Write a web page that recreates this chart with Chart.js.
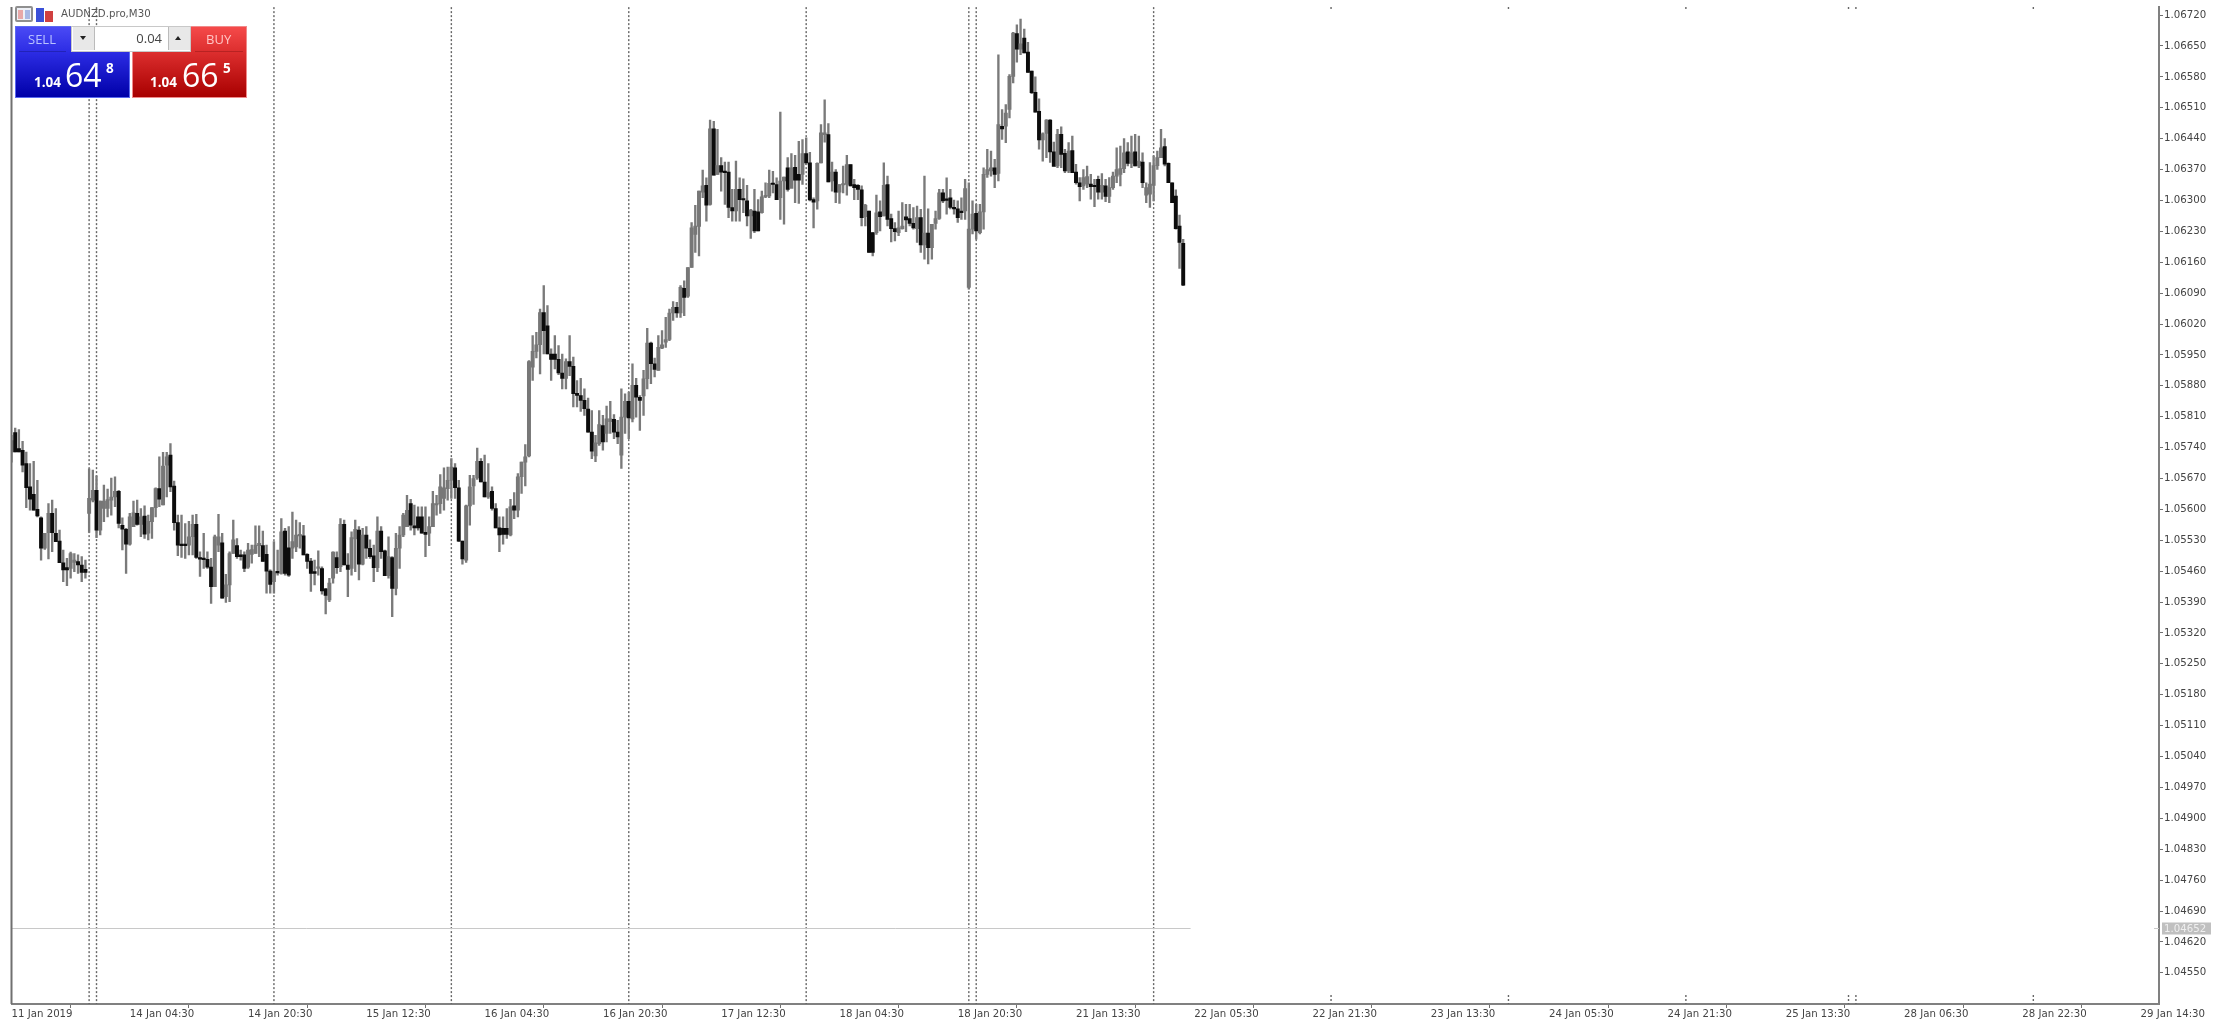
<!DOCTYPE html>
<html>
<head>
<meta charset="utf-8">
<title>AUDNZD.pro,M30</title>
<script src="https://cdn.jsdelivr.net/npm/chart.js@4"></script>
<style>
html,body{margin:0;padding:0;background:#fff;overflow:hidden}
#wrap{position:relative;width:2231px;height:1024px;filter:blur(0.55px)}
#mycanvas{position:absolute;left:0;top:0}
#wrap div{position:absolute;font-family:"Open Sans",sans-serif;box-sizing:border-box;white-space:nowrap}
</style>
</head>
<body>
<div id="wrap">
<canvas id="mycanvas" width="2231" height="1024"></canvas>
<div style="left:15px;top:6px;width:18px;height:16px;background:#eef0f6;border:2px solid #8f8f8f;border-radius:2px"></div>
<div style="left:18px;top:10px;width:5px;height:9px;background:#e8a8a8"></div>
<div style="left:25px;top:10px;width:5px;height:9px;background:#a8b8e4"></div>
<div style="left:36px;top:8px;width:8px;height:14px;background:#3a50d8"></div>
<div style="left:45px;top:11px;width:8px;height:11px;background:#d04040"></div>
<div style="left:61px;top:8px;font-family:'DejaVu Sans';font-size:10.2px;color:#555">AUDNZD.pro,M30</div>
<div style="left:15px;top:26px;width:115px;height:72px;background:linear-gradient(#4a4af5,#2c2ce4 36%,#0000a8);border:1px solid #5a6af0"></div>
<div style="left:132px;top:26px;width:115px;height:72px;background:linear-gradient(#f54a4a,#dc2e2e 36%,#a80000);border:1px solid #f08a8a"></div>
<div style="left:19px;top:51px;width:47px;height:1px;background:#2222b8"></div>
<div style="left:195px;top:51px;width:48px;height:1px;background:#b82222"></div>
<div style="left:28px;top:30px;font-size:13px;color:#b9c3ff">SELL</div>
<div style="left:206px;top:30px;font-size:13px;color:#ffc5c5">BUY</div>
<div style="left:71px;top:26px;width:120px;height:26px;background:#fff;border:1px solid #c8c8c8"></div>
<div style="left:73px;top:27px;width:22px;height:23px;background:#e8e8e8;border-right:1px solid #bbb"></div>
<div style="left:168px;top:27px;width:22px;height:23px;background:#e8e8e8;border-left:1px solid #bbb"></div>
<div style="left:80px;top:36px;width:0;height:0;border-left:3.5px solid transparent;border-right:3.5px solid transparent;border-top:4px solid #222"></div>
<div style="left:175px;top:36px;width:0;height:0;border-left:3.5px solid transparent;border-right:3.5px solid transparent;border-bottom:4px solid #222"></div>
<div style="left:95px;top:29px;width:67px;text-align:right;font-size:13px;color:#444">0.04</div>
<div style="left:34px;top:73px;font-size:13.5px;font-weight:bold;color:#fff">1.04</div>
<div style="left:65px;top:53px;font-size:32px;color:#fff">64</div>
<div style="left:106px;top:59px;font-size:13.5px;font-weight:bold;color:#fff">8</div>
<div style="left:150px;top:73px;font-size:13.5px;font-weight:bold;color:#fff">1.04</div>
<div style="left:182px;top:53px;font-size:32px;color:#fff">66</div>
<div style="left:223px;top:59px;font-size:13.5px;font-weight:bold;color:#fff">5</div>
</div>
<script>
var opens = [1.05730,1.05774,1.05738,1.05734,1.05704,1.05651,1.05634,1.05600,1.05581,1.05512,
1.05547,1.05591,1.05546,1.05528,1.05479,1.05468,1.05466,1.05480,1.05482,1.05474,
1.05464,1.05591,1.05621,1.05643,1.05553,1.05602,1.05602,1.05621,1.05628,1.05641,
1.05564,1.05555,1.05521,1.05561,1.05591,1.05566,1.05585,1.05546,1.05572,1.05604,
1.05647,1.05610,1.05700,1.05723,1.05653,1.05570,1.05521,1.05520,1.05519,1.05538,
1.05566,1.05491,1.05489,1.05487,1.05469,1.05425,1.05519,1.05524,1.05402,1.05429,
1.05500,1.05518,1.05497,1.05497,1.05469,1.05498,1.05500,1.05518,1.05518,1.05498,
1.05460,1.05436,1.05459,1.05455,1.05551,1.05513,1.05512,1.05515,1.05540,1.05540,
1.05498,1.05483,1.05459,1.05466,1.05466,1.05420,1.05395,1.05444,1.05491,1.05470,
1.05566,1.05474,1.05466,1.05533,1.05553,1.05476,1.05542,1.05512,1.05495,1.05468,
1.05551,1.05506,1.05450,1.05491,1.05421,1.05512,1.05542,1.05561,1.05613,1.05563,
1.05583,1.05583,1.05548,1.05546,1.05561,1.05610,1.05613,1.05625,1.05647,1.05666,
1.05694,1.05649,1.05528,1.05485,1.05608,1.05653,1.05671,1.05709,1.05662,1.05628,
1.05641,1.05602,1.05558,1.05557,1.05557,1.05542,1.05608,1.05598,1.05674,1.05707,
1.05721,1.05922,1.05958,1.05973,1.06046,1.06016,1.05952,1.05952,1.05940,1.05909,
1.05897,1.05935,1.05924,1.05863,1.05858,1.05847,1.05827,1.05775,1.05721,1.05749,
1.05790,1.05772,1.05799,1.05804,1.05775,1.05723,1.05809,1.05845,1.05805,1.05881,
1.05854,1.05857,1.05896,1.05977,1.05930,1.05915,1.05965,1.05979,1.05985,1.06045,
1.06058,1.06045,1.06101,1.06083,1.06148,1.06223,1.06241,1.06319,1.06334,1.06291,
1.06462,1.06359,1.06379,1.06364,1.06364,1.06284,1.06276,1.06325,1.06302,1.06299,
1.06265,1.06276,1.06274,1.06272,1.06308,1.06310,1.06339,1.06336,1.06306,1.06344,
1.06374,1.06327,1.06375,1.06359,1.06359,1.06406,1.06385,1.06302,1.06299,1.06385,
1.06449,1.06449,1.06344,1.06364,1.06319,1.06335,1.06336,1.06381,1.06336,1.06334,
1.06324,1.06263,1.06276,1.06227,1.06227,1.06274,1.06265,1.06336,1.06259,1.06236,
1.06227,1.06236,1.06263,1.06259,1.06248,1.06236,1.06261,1.06199,1.06226,1.06193,
1.06248,1.06259,1.06317,1.06302,1.06306,1.06284,1.06281,1.06276,1.06276,1.06103,
1.06235,1.06271,1.06227,1.06274,1.06359,1.06367,1.06374,1.06361,1.06468,1.06468,
1.06506,1.06581,1.06678,1.06643,1.06668,1.06636,1.06593,1.06545,1.06502,1.06437,
1.06452,1.06482,1.06410,1.06378,1.06450,1.06407,1.06367,1.06413,1.06364,1.06340,
1.06333,1.06337,1.06337,1.06334,1.06348,1.06319,1.06333,1.06309,1.06329,1.06355,
1.06359,1.06372,1.06410,1.06384,1.06410,1.06378,1.06387,1.06312,1.06314,1.06334,
1.06379,1.06397,1.06422,1.06384,1.06340,1.06310,1.06242,1.06203];
var highs = [1.05768,1.05784,1.05781,1.05754,1.05730,1.05704,1.05709,1.05666,1.05583,1.05546,
1.05613,1.05621,1.05602,1.05553,1.05508,1.05489,1.05503,1.05500,1.05497,1.05493,
1.05485,1.05692,1.05689,1.05676,1.05619,1.05655,1.05646,1.05671,1.05674,1.05643,
1.05581,1.05557,1.05591,1.05619,1.05621,1.05602,1.05608,1.05587,1.05604,1.05649,
1.05719,1.05729,1.05729,1.05749,1.05664,1.05587,1.05587,1.05568,1.05573,1.05587,
1.05589,1.05504,1.05546,1.05504,1.05489,1.05542,1.05589,1.05546,1.05453,1.05504,
1.05576,1.05534,1.05508,1.05504,1.05523,1.05519,1.05563,1.05563,1.05551,1.05519,
1.05463,1.05527,1.05508,1.05579,1.05557,1.05561,1.05594,1.05576,1.05570,1.05564,
1.05500,1.05489,1.05485,1.05506,1.05470,1.05421,1.05444,1.05504,1.05504,1.05579,
1.05576,1.05500,1.05549,1.05576,1.05561,1.05557,1.05561,1.05531,1.05519,1.05583,
1.05561,1.05508,1.05538,1.05493,1.05546,1.05561,1.05591,1.05632,1.05623,1.05610,
1.05606,1.05606,1.05606,1.05583,1.05641,1.05632,1.05679,1.05694,1.05696,1.05715,
1.05704,1.05666,1.05528,1.05610,1.05677,1.05677,1.05739,1.05715,1.05723,1.05704,
1.05651,1.05613,1.05583,1.05583,1.05602,1.05623,1.05638,1.05681,1.05707,1.05747,
1.05937,1.05994,1.06001,1.06054,1.06107,1.06062,1.05964,1.05994,1.05971,1.05952,
1.05941,1.05994,1.05945,1.05892,1.05897,1.05873,1.05852,1.05824,1.05768,1.05824,
1.05813,1.05834,1.05845,1.05815,1.05802,1.05873,1.05862,1.05866,1.05930,1.05897,
1.05858,1.05915,1.06010,1.05979,1.05943,1.05994,1.06005,1.06035,1.06054,1.06071,
1.06069,1.06107,1.06118,1.06148,1.06250,1.06289,1.06321,1.06369,1.06351,1.06482,
1.06479,1.06461,1.06397,1.06387,1.06387,1.06325,1.06389,1.06351,1.06349,1.06334,
1.06280,1.06325,1.06302,1.06321,1.06340,1.06369,1.06366,1.06351,1.06500,1.06353,
1.06397,1.06406,1.06402,1.06434,1.06438,1.06442,1.06409,1.06306,1.06385,1.06472,
1.06528,1.06474,1.06387,1.06370,1.06336,1.06378,1.06402,1.06381,1.06348,1.06336,
1.06333,1.06291,1.06276,1.06227,1.06312,1.06299,1.06385,1.06355,1.06269,1.06250,
1.06276,1.06295,1.06291,1.06291,1.06284,1.06287,1.06280,1.06355,1.06281,1.06246,
1.06276,1.06325,1.06325,1.06351,1.06325,1.06301,1.06299,1.06306,1.06348,1.06340,
1.06299,1.06291,1.06291,1.06374,1.06416,1.06412,1.06393,1.06630,1.06506,1.06517,
1.06585,1.06681,1.06698,1.06711,1.06688,1.06658,1.06593,1.06580,1.06530,1.06453,
1.06483,1.06483,1.06432,1.06461,1.06467,1.06416,1.06431,1.06446,1.06382,1.06352,
1.06370,1.06378,1.06359,1.06348,1.06355,1.06361,1.06348,1.06352,1.06364,1.06419,
1.06423,1.06440,1.06431,1.06446,1.06450,1.06446,1.06408,1.06340,1.06386,1.06401,
1.06412,1.06461,1.06440,1.06385,1.06340,1.06324,1.06267,1.06212];
var lows = [1.05707,1.05730,1.05730,1.05685,1.05604,1.05598,1.05598,1.05583,1.05485,1.05509,
1.05488,1.05504,1.05527,1.05479,1.05436,1.05427,1.05444,1.05459,1.05455,1.05436,
1.05444,1.05548,1.05617,1.05536,1.05542,1.05572,1.05583,1.05587,1.05606,1.05558,
1.05508,1.05455,1.05519,1.05561,1.05564,1.05538,1.05534,1.05531,1.05534,1.05583,
1.05606,1.05610,1.05628,1.05640,1.05553,1.05495,1.05491,1.05489,1.05497,1.05497,
1.05489,1.05448,1.05466,1.05466,1.05387,1.05425,1.05504,1.05399,1.05389,1.05391,
1.05500,1.05489,1.05485,1.05459,1.05466,1.05478,1.05500,1.05493,1.05482,1.05410,
1.05410,1.05410,1.05451,1.05453,1.05451,1.05448,1.05489,1.05504,1.05512,1.05497,
1.05466,1.05414,1.05429,1.05451,1.05408,1.05363,1.05391,1.05433,1.05455,1.05459,
1.05474,1.05402,1.05451,1.05459,1.05440,1.05474,1.05489,1.05489,1.05436,1.05459,
1.05489,1.05450,1.05444,1.05357,1.05406,1.05466,1.05538,1.05561,1.05553,1.05542,
1.05553,1.05546,1.05493,1.05518,1.05561,1.05587,1.05591,1.05598,1.05621,1.05625,
1.05625,1.05527,1.05476,1.05480,1.05564,1.05611,1.05668,1.05662,1.05628,1.05625,
1.05598,1.05558,1.05504,1.05521,1.05534,1.05540,1.05579,1.05583,1.05636,1.05653,
1.05719,1.05892,1.05943,1.05907,1.05952,1.05952,1.05892,1.05918,1.05905,1.05873,
1.05873,1.05903,1.05832,1.05832,1.05822,1.05813,1.05775,1.05715,1.05708,1.05745,
1.05734,1.05753,1.05772,1.05760,1.05749,1.05693,1.05772,1.05760,1.05798,1.05809,
1.05779,1.05813,1.05873,1.05885,1.05900,1.05915,1.05964,1.05967,1.05982,1.06028,
1.06035,1.06035,1.06039,1.06080,1.06148,1.06182,1.06174,1.06306,1.06253,1.06289,
1.06357,1.06359,1.06321,1.06291,1.06261,1.06253,1.06253,1.06253,1.06272,1.06242,
1.06214,1.06227,1.06231,1.06271,1.06306,1.06306,1.06317,1.06302,1.06257,1.06246,
1.06321,1.06333,1.06295,1.06293,1.06336,1.06381,1.06299,1.06238,1.06280,1.06385,
1.06432,1.06342,1.06321,1.06295,1.06293,1.06317,1.06312,1.06333,1.06302,1.06302,
1.06242,1.06242,1.06182,1.06174,1.06223,1.06231,1.06265,1.06242,1.06206,1.06208,
1.06220,1.06235,1.06229,1.06242,1.06235,1.06205,1.06182,1.06167,1.06156,1.06167,
1.06235,1.06257,1.06295,1.06269,1.06281,1.06269,1.06250,1.06257,1.06257,1.06099,
1.06224,1.06212,1.06224,1.06235,1.06352,1.06355,1.06329,1.06344,1.06438,1.06431,
1.06487,1.06566,1.06613,1.06630,1.06634,1.06590,1.06542,1.06500,1.06416,1.06389,
1.06397,1.06386,1.06378,1.06374,1.06374,1.06363,1.06363,1.06363,1.06337,1.06299,
1.06325,1.06329,1.06303,1.06286,1.06303,1.06303,1.06297,1.06295,1.06325,1.06340,
1.06333,1.06363,1.06378,1.06374,1.06378,1.06374,1.06329,1.06295,1.06284,1.06299,
1.06370,1.06397,1.06378,1.06340,1.06295,1.06235,1.06146,1.06107];
var closes = [1.05756,1.05730,1.05730,1.05700,1.05649,1.05623,1.05598,1.05585,1.05512,1.05546,
1.05591,1.05547,1.05527,1.05479,1.05463,1.05463,1.05500,1.05485,1.05474,1.05457,
1.05457,1.05625,1.05643,1.05553,1.05619,1.05619,1.05622,1.05628,1.05641,1.05568,
1.05555,1.05521,1.05583,1.05592,1.05566,1.05583,1.05544,1.05573,1.05604,1.05647,
1.05623,1.05698,1.05719,1.05651,1.05570,1.05519,1.05518,1.05518,1.05538,1.05566,
1.05491,1.05487,1.05486,1.05469,1.05425,1.05538,1.05538,1.05399,1.05429,1.05500,
1.05531,1.05493,1.05493,1.05466,1.05508,1.05509,1.05519,1.05523,1.05482,1.05460,
1.05430,1.05459,1.05456,1.05549,1.05455,1.05451,1.05527,1.05542,1.05543,1.05497,
1.05482,1.05455,1.05455,1.05470,1.05415,1.05405,1.05433,1.05503,1.05468,1.05566,
1.05474,1.05464,1.05536,1.05555,1.05476,1.05542,1.05512,1.05493,1.05468,1.05551,
1.05504,1.05450,1.05493,1.05421,1.05512,1.05542,1.05587,1.05598,1.05564,1.05558,
1.05558,1.05546,1.05543,1.05561,1.05613,1.05613,1.05651,1.05649,1.05666,1.05696,
1.05649,1.05528,1.05488,1.05608,1.05651,1.05670,1.05709,1.05662,1.05628,1.05638,
1.05602,1.05558,1.05542,1.05543,1.05543,1.05606,1.05598,1.05674,1.05707,1.05719,
1.05935,1.05958,1.05973,1.06046,1.06005,1.05952,1.05940,1.05940,1.05909,1.05897,
1.05935,1.05924,1.05862,1.05858,1.05847,1.05828,1.05775,1.05732,1.05751,1.05792,
1.05753,1.05805,1.05805,1.05775,1.05764,1.05809,1.05845,1.05807,1.05881,1.05854,
1.05847,1.05896,1.05977,1.05930,1.05917,1.05967,1.05973,1.05985,1.06045,1.06058,
1.06045,1.06103,1.06080,1.06148,1.06238,1.06242,1.06321,1.06333,1.06289,1.06462,
1.06357,1.06379,1.06364,1.06363,1.06284,1.06276,1.06325,1.06302,1.06301,1.06265,
1.06278,1.06231,1.06231,1.06308,1.06310,1.06339,1.06336,1.06302,1.06344,1.06353,
1.06325,1.06374,1.06346,1.06346,1.06406,1.06385,1.06301,1.06296,1.06384,1.06453,
1.06453,1.06342,1.06364,1.06319,1.06336,1.06336,1.06381,1.06333,1.06329,1.06325,
1.06261,1.06289,1.06182,1.06182,1.06272,1.06263,1.06334,1.06257,1.06236,1.06229,
1.06238,1.06242,1.06256,1.06248,1.06238,1.06261,1.06199,1.06226,1.06193,1.06246,
1.06259,1.06317,1.06299,1.06300,1.06284,1.06281,1.06261,1.06272,1.06327,1.06235,
1.06269,1.06231,1.06274,1.06359,1.06370,1.06374,1.06359,1.06472,1.06462,1.06498,
1.06581,1.06679,1.06643,1.06655,1.06634,1.06590,1.06544,1.06500,1.06437,1.06451,
1.06482,1.06410,1.06377,1.06450,1.06404,1.06367,1.06412,1.06363,1.06340,1.06331,
1.06352,1.06354,1.06331,1.06331,1.06319,1.06334,1.06309,1.06329,1.06355,1.06370,
1.06372,1.06408,1.06384,1.06408,1.06378,1.06389,1.06340,1.06329,1.06337,1.06379,
1.06397,1.06419,1.06382,1.06340,1.06295,1.06236,1.06205,1.06108];

var tickLabels = ["11 Jan 2019","14 Jan 04:30","14 Jan 20:30","15 Jan 12:30","16 Jan 04:30","16 Jan 20:30","17 Jan 12:30","18 Jan 04:30","18 Jan 20:30","21 Jan 13:30","22 Jan 05:30","22 Jan 21:30","23 Jan 13:30","24 Jan 05:30","24 Jan 21:30","25 Jan 13:30","28 Jan 06:30","28 Jan 22:30","29 Jan 14:30"];
var tickBars = [0,32,64,96,128,160,192,224,256,288,320,352,384,416,448,480,512,544,576];
var priceTicks = [1.04550,1.04620,1.04690,1.04760,1.04830,1.04900,1.04970,1.05040,1.05110,1.05180,1.05250,1.05320,1.05390,1.05460,1.05530,1.05600,1.05670,1.05740,1.05810,1.05880,1.05950,1.06020,1.06090,1.06160,1.06230,1.06300,1.06370,1.06440,1.06510,1.06580,1.06650,1.06720];
var sessionBars = [21,23,71,119,167,215,259,261,309];
var futureBars = [357,405,453,497,499,547];
var bidPrice = 1.04652;
var bidEndBar = 319;
var barSlots = 582;

var labels = [];
for(var i = 0; i < barSlots; i++) {
	labels.push(i);
}
var wicks = [];
var bodies = [];
var bodyColors = [];
for(var i = 0; i < opens.length; i++) {
	wicks.push([lows[i], highs[i]]);
	bodies.push([opens[i], closes[i]]);
	bodyColors.push(closes[i] < opens[i] ? '#0c0c0c' : '#777777');
}

// dotted session lines, bid line and the grey price tag
var overlays = {
	id: 'overlays',
	beforeDatasetsDraw: function(chart) {
		var ctx = chart.ctx, a = chart.chartArea, x = chart.scales.x, y = chart.scales.y;
		ctx.save();
		ctx.strokeStyle = '#666666';
		ctx.lineWidth = 1.4;
		ctx.setLineDash([2, 2]);
		sessionBars.forEach(function(b) {
			ctx.beginPath();
			ctx.moveTo(x.getPixelForValue(b), a.top);
			ctx.lineTo(x.getPixelForValue(b), a.bottom);
			ctx.stroke();
		});
		futureBars.forEach(function(b) {
			ctx.beginPath();
			ctx.moveTo(x.getPixelForValue(b), a.top);
			ctx.lineTo(x.getPixelForValue(b), a.top + 2);
			ctx.moveTo(x.getPixelForValue(b), a.bottom - 9);
			ctx.lineTo(x.getPixelForValue(b), a.bottom);
			ctx.stroke();
		});
		ctx.setLineDash([]);
		ctx.strokeStyle = '#c8c8c8';
		ctx.lineWidth = 1;
		var by = Math.round(y.getPixelForValue(bidPrice)) + 0.5;
		ctx.beginPath();
		ctx.moveTo(a.left, by);
		ctx.lineTo(x.getPixelForValue(bidEndBar), by);
		ctx.moveTo(a.right - 5, by);
		ctx.lineTo(a.right, by);
		ctx.stroke();
		ctx.restore();
	},
	afterDraw: function(chart) {
		var ctx = chart.ctx, a = chart.chartArea, y = chart.scales.y;
		var by = Math.round(y.getPixelForValue(bidPrice)) + 0.5;
		ctx.save();
		ctx.strokeStyle = '#707070';
		ctx.lineWidth = 2;
		ctx.beginPath();
		ctx.moveTo(a.left, a.top);
		ctx.lineTo(a.left, a.bottom);
		ctx.stroke();
		ctx.fillStyle = '#c0c0c0';
		ctx.fillRect(a.right + 3, by - 6, 49, 12);
		ctx.fillStyle = '#efefef';
		ctx.font = '10.2px "DejaVu Sans"';
		ctx.textBaseline = 'middle';
		ctx.fillText(bidPrice.toFixed(5), a.right + 5, by + 0.5);
		ctx.restore();
	}
};

var ctx = document.getElementById('mycanvas');
var candleChart = new Chart(ctx, {
	type: 'bar',
	data: {
		labels: labels,
		datasets: [
			{ label: 'Body', data: bodies, backgroundColor: bodyColors, barThickness: 3.3, minBarLength: 1.5, order: 1, grouped: false },
			{ label: 'Range', data: wicks, backgroundColor: '#7a7a7a', barThickness: 1.7, order: 2, grouped: false }
		]
	},
	options: {
		responsive: false,
		animation: false,
		devicePixelRatio: 1,
		layout: { autoPadding: false, padding: { left: 11.5, top: 4 } },
		plugins: { legend: { display: false }, tooltip: { enabled: false } },
		scales: {
			x: {
				type: 'category',
				offset: false,
				afterBuildTicks: function(scale) {
					scale.ticks = tickBars.map(function(b) { return { value: b }; });
				},
				afterFit: function(scale) { scale.height = 20; },
				grid: { drawOnChartArea: false, drawTicks: true, tickLength: 4, color: '#707070' },
				border: { color: '#808080', width: 2 },
				ticks: {
					autoSkip: false, maxRotation: 0, minRotation: 0, align: 'start', padding: 0,
					color: '#444444', font: { family: '"DejaVu Sans"', size: 10.2 },
					callback: function(v, i) { return tickLabels[i]; }
				}
			},
			y: {
				position: 'right',
				min: 1.044793,
				max: 1.06738,
				afterBuildTicks: function(scale) {
					scale.ticks = priceTicks.map(function(p) { return { value: p }; });
				},
				afterFit: function(scale) { scale.width = 72; },
				grid: { drawOnChartArea: false, drawTicks: true, tickLength: 4, color: '#707070' },
				border: { color: '#808080', width: 2 },
				ticks: {
					autoSkip: false, padding: 1,
					color: '#444444', font: { family: '"DejaVu Sans"', size: 10.2 },
					callback: function(v) { return v.toFixed(5); }
				}
			}
		}
	},
	plugins: [overlays]
});
</script>
</body>
</html>
